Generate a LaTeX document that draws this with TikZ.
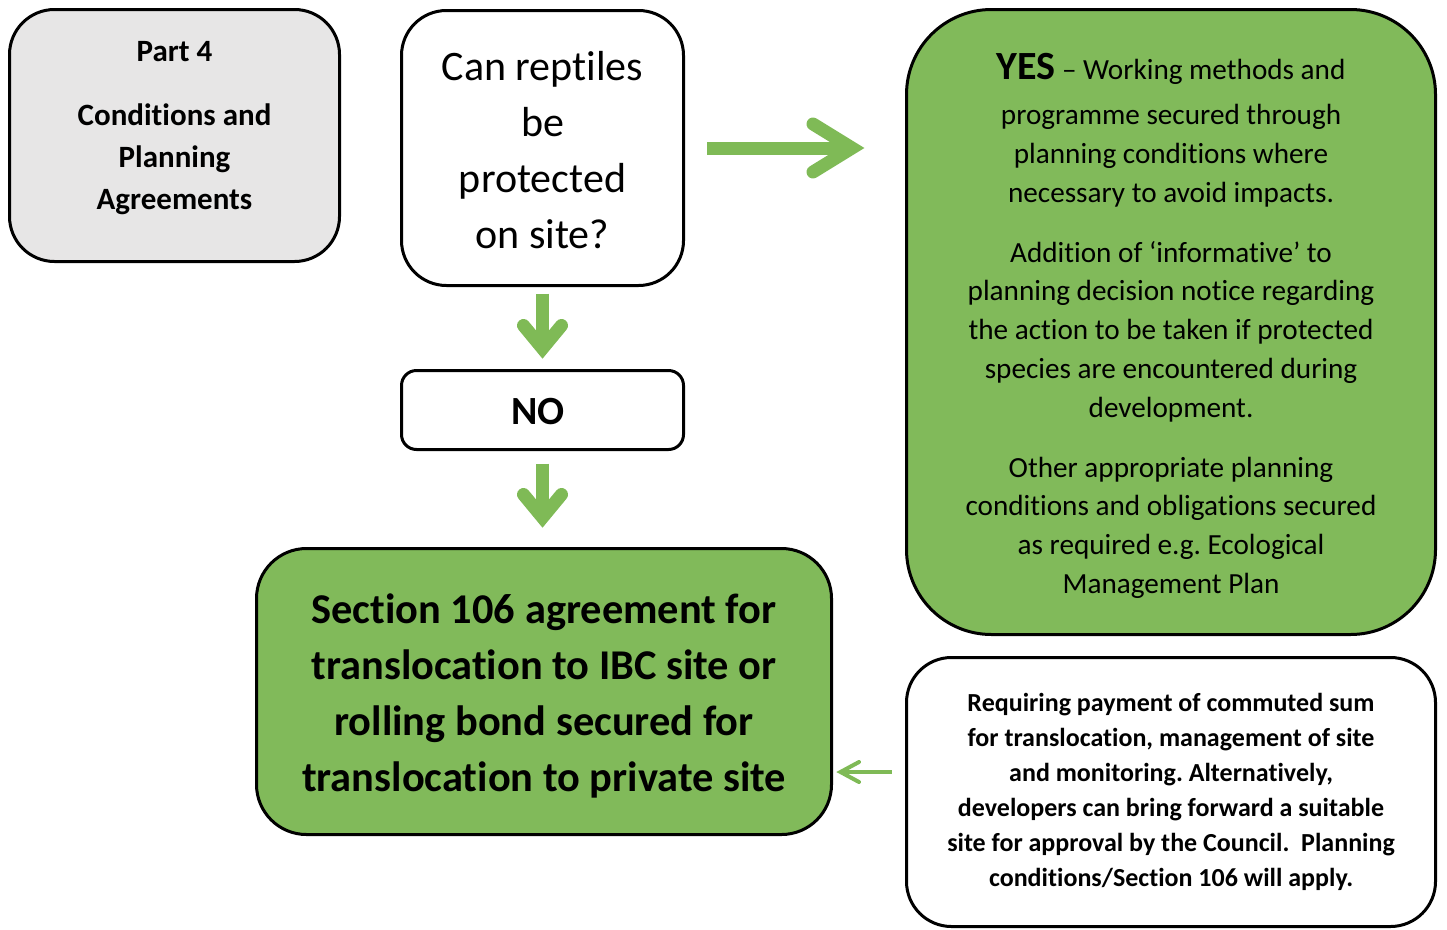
\documentclass[tikz,border=0pt]{standalone}
\usepackage{fontspec}
\setmainfont{Carlito}[Ligatures=NoCommon]
\usetikzlibrary{calc}
\frenchspacing

\definecolor{leaf}{RGB}{129,186,90}
\definecolor{arrowgreen}{RGB}{127,186,86}
\definecolor{panelgrey}{RGB}{231,230,230}

\tikzset{
  box/.style={draw=black, line width=3pt, inner sep=0pt},
  shaft/.style={draw=arrowgreen, line width=13pt},
  barb/.style={draw=arrowgreen, line width=13pt, line cap=round, line join=miter},
  thinshaft/.style={draw=arrowgreen, line width=4pt},
  thinbarb/.style={draw=arrowgreen, line width=4pt, line cap=round, line join=miter},
  txt/.style={align=center, inner sep=0pt, text=black}
}

\begin{document}
\begin{tikzpicture}[x=1pt, y=-1pt]
\useasboundingbox (0,0) rectangle (1447,929);

% boxes
\node[box, fill=panelgrey, rounded corners=45pt, minimum width=330pt, minimum height=252pt] (part) at (174.5,135.5) {};
\node[box, fill=white, rounded corners=45pt, minimum width=282pt, minimum height=275pt] (q) at (542.5,148) {};
\node[box, fill=white, rounded corners=15pt, minimum width=282pt, minimum height=79pt] (no) at (542.5,410) {};
\node[box, fill=leaf, rounded corners=50pt, minimum width=575pt, minimum height=286pt] (sec) at (544,691.5) {};
\node[box, fill=leaf, rounded corners=85pt, minimum width=529pt, minimum height=625pt] (yes) at (1171,322) {};
\node[box, fill=white, rounded corners=45pt, minimum width=529pt, minimum height=269pt] (br) at (1171,792) {};

% texts
\node[txt, font=\fontsize{31}{42}\selectfont\bfseries] (parttxt) at (174.5,128.5)
  {Part 4\\[22pt]Conditions and\\Planning\\Agreements};
\node[txt, font=\fontsize{42}{56}\selectfont] (qtxt) at (542.5,150)
  {Can reptiles\\be\\protected\\on site?};
\node[txt, font=\fontsize{40}{48}\selectfont\bfseries] (notxt) at (538,412) {NO};
\node[txt, font=\fontsize{42.4}{56}\selectfont\bfseries] (sectxt) at (544,696)
  {Section 106 agreement for\\translocation to IBC site or\\rolling bond secured for\\translocation to private site};
\node[txt, font=\fontsize{29.2}{38.8}\selectfont] (yestxt) at (1171,326)
  {{\fontsize{40}{45}\selectfont\bfseries YES} – Working methods and\\[6pt]programme secured through\\planning conditions where\\necessary to avoid impacts.\\[21pt]Addition of ‘informative’ to\\planning decision notice regarding\\the action to be taken if protected\\species are encountered during\\development.\\[21pt]Other appropriate planning\\conditions and obligations secured\\as required e.g. Ecological\\Management Plan};
\node[txt, font=\fontsize{26}{35}\selectfont\bfseries] (brtxt) at (1171,792)
  {Requiring payment of commuted sum\\for translocation, management of site\\and monitoring. Alternatively,\\developers can bring forward a suitable\\site for approval by the Council.\ \ Planning\\conditions/Section 106 will apply.};

% question -> yes
\draw[shaft, shorten <=22pt, shorten >=56pt] (q.east) -- (q.east -| yes.west);
\draw[barb] ($(q.east -| yes.west)+(-92,-24)$) -- ($(q.east -| yes.west)+(-53,0)$) -- ($(q.east -| yes.west)+(-92,24)$);

% question -> no
\draw[shaft, shorten <=6.5pt, shorten >=25pt] (q.south) -- (no.north);
\draw[barb] ($(no.north)+(-19,-43.5)$) -- ($(no.north)+(0,-20.5)$) -- ($(no.north)+(19,-43.5)$);

% no -> section 106
\draw[shaft, shorten <=12.5pt, shorten >=34pt] (no.south) -- (no.south |- sec.north);
\draw[barb] ($(no.south |- sec.north)+(-19,-52.5)$) -- ($(no.south |- sec.north)+(0,-29.5)$) -- ($(no.south |- sec.north)+(19,-52.5)$);

% commuted sum -> section 106
\draw[thinshaft, shorten <=13.5pt, shorten >=9pt] ($(br.west)+(0,-20)$) -- ($(br.west -| sec.east)+(0,-20)$);
\draw[thinbarb] ($(br.west -| sec.east)+(26,-30)$) -- ($(br.west -| sec.east)+(7.5,-20)$) -- ($(br.west -| sec.east)+(26,-10)$);
\end{tikzpicture}
\end{document}
